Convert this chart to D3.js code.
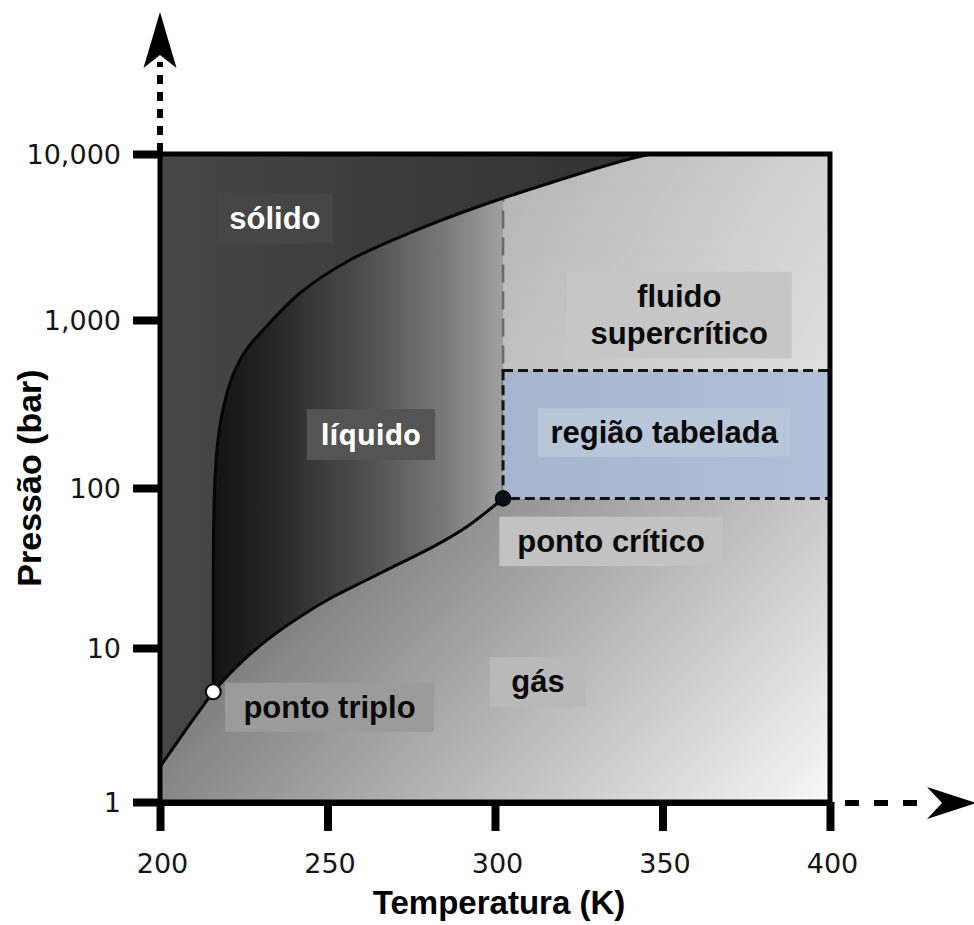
<!DOCTYPE html>
<html>
<head>
<meta charset="utf-8">
<script src="https://cdn.jsdelivr.net/npm/d3@7"></script>
<style>
  html, body { margin: 0; padding: 0; background: #ffffff; }
  svg { display: block; }
</style>
</head>
<body>
<svg id="chart" width="974" height="925"></svg>
<script>
// CO2 phase boundaries: temperature in K, pressure in bar
const sublimationT = [200, 208, 215.9];
const sublimationP = [1.69, 3.01, 5.2];

const vaporT = [215.9, 221.9, 231.9, 241.8, 251.7, 261.7, 271.6, 281.6, 291.6, 302.4];
const vaporP = [5.2, 7.2, 11.2, 15.7, 20.9, 26.6, 33.8, 43.0, 57.3, 86];

const meltT = [215.9, 215.9, 216.0, 216.4, 217.3, 219.1, 221.8, 225.7, 230.8, 241.8, 256.7, 276.6, 296.4, 316.4, 336.3, 346.3];
const meltP = [5.2, 20.5, 54.6, 112, 193, 312, 471, 663, 872, 1454, 2298, 3485, 4930, 6690, 8890, 10000];

const triplePoint = { T: 215.9, P: 5.2 };
const criticalPoint = { T: 302.4, P: 86 };

// tabulated window of the supercritical region
const tabulatedT = [302.4, 400];
const tabulatedP = [86, 500];

const xTicks = [200, 250, 300, 350, 400];
const xTickLabels = ["200", "250", "300", "350", "400"];
const yTicks = [1, 10, 100, 1000, 10000];
const yTickLabels = ["1", "10", "100", "1,000", "10,000"];

const xTitle = "Temperatura (K)";
const yTitle = "Pressão (bar)";

// region names, each on a shaded plate spanning a T/P window
const regionLabels = [
  { text: ["sólido"], T: [217, 251.6], P: [2900, 5800], plate: "#464646", ink: "#ffffff" },
  { text: ["líquido"], T: [243.8, 282.1], P: [147, 295], plate: "#545454", ink: "#ffffff", font: "'Open Sans', 'Liberation Sans', sans-serif", size: 29 },
  { text: ["ponto triplo"], T: [219.4, 281.8], P: [2.86, 5.95], plate: "#9b9b9b", ink: "#0a0a0a" },
  { text: ["gás"], T: [298.5, 327.2], P: [4.14, 8.74], plate: "#b9b9b9", ink: "#0a0a0a" },
  { text: ["ponto crítico"], T: [301.3, 368], P: [32.5, 66.2], plate: "#c2c2c2", ink: "#0a0a0a" },
  { text: ["fluido", "supercrítico"], T: [321.4, 388.6], P: [591, 1954], plate: "#c6c6c6", ink: "#0a0a0a" },
  { text: ["região tabelada"], T: [312.9, 388.1], P: [153.5, 298], plate: "#b9c6da", ink: "#0a0a0a" }
];

// ---------------------------------------------------------------------------
(function draw() {
  const pL = 160, pR = 830, pT = 154, pB = 802;
  const labelFont = "'Liberation Sans', Arial, Helvetica, sans-serif";

  const x = d3.scaleLinear().domain([200, 400]).range([pL, pR]);
  // log pressure axis, one segment per decade
  const y = d3.scaleLog().domain(yTicks).range([802, 648, 488, 320, 154]);

  const svg = d3.select("#chart");
  const defs = svg.append("defs");

  defs.append("clipPath").attr("id", "plot-clip")
    .append("rect")
    .attr("x", pL).attr("y", pT)
    .attr("width", pR - pL).attr("height", pB - pT);

  function linearGradient(id, coords, stops) {
    const g = defs.append("linearGradient").attr("id", id)
      .attr("gradientUnits", "userSpaceOnUse")
      .attr("x1", coords[0]).attr("y1", coords[1])
      .attr("x2", coords[2]).attr("y2", coords[3]);
    stops.forEach(([o, c]) => g.append("stop").attr("offset", o).attr("stop-color", c));
  }

  linearGradient("gas-fill", [300, 560, 717, 941], [[0, "#7a7a7a"], [1, "#fbfbfb"]]);
  linearGradient("liquid-fill", [x(triplePoint.T), 0, x(criticalPoint.T), 0],
    [[0, "#131313"], [0.22, "#272727"], [0.55, "#525252"], [0.8, "#7a7a7a"], [1, "#a0a0a0"]]);
  linearGradient("solid-fill", [pL, 0, 640, 0], [[0, "#464646"], [1, "#313131"]]);
  linearGradient("super-fill", [x(criticalPoint.T), 190, pR, 390], [[0, "#b6b6b6"], [1, "#e0e0e0"]]);
  linearGradient("table-fill", [x(tabulatedT[0]), 0, pR, 0], [[0, "#a6b5cd"], [1, "#b2bfd5"]]);

  const zip = (ts, ps) => ts.map((T, i) => ({ T, P: ps[i] }));
  const sublimation = zip(sublimationT, sublimationP);
  const vapor = zip(vaporT, vaporP);
  const melt = zip(meltT, meltP);

  const lineLinear = d3.line().x(d => x(d.T)).y(d => y(d.P));
  const lineVapor = d3.line().x(d => x(d.T)).y(d => y(d.P)).curve(d3.curveMonotoneX);
  const lineMelt = d3.line().x(d => x(d.T)).y(d => y(d.P)).curve(d3.curveCatmullRom.alpha(0.5));

  const subPath = lineLinear(sublimation);
  const vaporPath = lineVapor(vapor);
  const meltPath = lineMelt(melt);

  const plot = svg.append("g").attr("clip-path", "url(#plot-clip)");

  // gas: whole field underneath
  plot.append("rect")
    .attr("x", pL).attr("y", pT)
    .attr("width", pR - pL).attr("height", pB - pT)
    .attr("fill", "url(#gas-fill)");

  // everything above the sublimation / vaporisation line, left of the critical isotherm
  const yMax = y(10000);
  const liquidArea = subPath + "L" + vaporPath.slice(1) +
    `L${x(criticalPoint.T)},${yMax}L${x(200)},${yMax}Z`;
  plot.append("path").attr("d", liquidArea).attr("fill", "url(#liquid-fill)");

  // supercritical quadrant
  plot.append("rect")
    .attr("x", x(criticalPoint.T)).attr("y", yMax)
    .attr("width", pR - x(criticalPoint.T))
    .attr("height", y(criticalPoint.P) - yMax)
    .attr("fill", "url(#super-fill)");

  // critical isotherm
  plot.append("line")
    .attr("x1", x(criticalPoint.T)).attr("x2", x(criticalPoint.T))
    .attr("y1", y(criticalPoint.P)).attr("y2", yMax)
    .attr("stroke", "#6a6a6a").attr("stroke-width", 2.6)
    .attr("stroke-dasharray", "18,9");

  // solid region, bounded by sublimation and melting curves
  const solidArea = `M${x(200)},${yMax}L` + subPath.slice(1) + "L" + meltPath.slice(1) + "Z";
  plot.append("path").attr("d", solidArea).attr("fill", "url(#solid-fill)");

  // tabulated window
  plot.append("rect")
    .attr("x", x(tabulatedT[0])).attr("y", y(tabulatedP[1]))
    .attr("width", x(tabulatedT[1]) - x(tabulatedT[0]))
    .attr("height", y(tabulatedP[0]) - y(tabulatedP[1]))
    .attr("fill", "url(#table-fill)")
    .attr("stroke", "#141414").attr("stroke-width", 3)
    .attr("stroke-dasharray", "10,5");

  // phase boundaries
  [subPath, vaporPath, meltPath].forEach(d =>
    plot.append("path").attr("d", d)
      .attr("fill", "none").attr("stroke", "#050505")
      .attr("stroke-width", 3).attr("stroke-linejoin", "round"));

  // region plates and names
  regionLabels.forEach(lab => {
    const x0 = x(lab.T[0]), x1 = x(lab.T[1]);
    const y0 = y(lab.P[1]), y1 = y(lab.P[0]);
    plot.append("rect")
      .attr("x", x0).attr("y", y0)
      .attr("width", x1 - x0).attr("height", y1 - y0)
      .attr("fill", lab.plate);
    const size = lab.size || 31;
    const lineH = 36.6;
    const cx = (x0 + x1) / 2, cy = (y0 + y1) / 2;
    const t = plot.append("text")
      .attr("text-anchor", "middle")
      .attr("font-family", lab.font || labelFont)
      .attr("font-weight", "bold")
      .attr("font-size", size)
      .attr("fill", lab.ink);
    lab.text.forEach((s, i) => {
      t.append("tspan")
        .attr("x", cx)
        .attr("y", cy + 10.5 + (i - (lab.text.length - 1) / 2) * lineH)
        .text(s);
    });
  });

  // triple and critical points
  plot.append("circle")
    .attr("cx", x(criticalPoint.T)).attr("cy", y(criticalPoint.P)).attr("r", 7.5)
    .attr("fill", "#0b0f18").attr("stroke", "#000").attr("stroke-width", 1.5);
  plot.append("circle")
    .attr("cx", x(triplePoint.T)).attr("cy", y(triplePoint.P)).attr("r", 7.5)
    .attr("fill", "#ffffff").attr("stroke", "#111").attr("stroke-width", 2.2);

  // frame
  svg.append("rect")
    .attr("x", pL).attr("y", pT)
    .attr("width", pR - pL).attr("height", pB - pT)
    .attr("fill", "none").attr("stroke", "#000").attr("stroke-width", 5);
  svg.append("line")
    .attr("x1", pL).attr("x2", pR)
    .attr("y1", pB + 1).attr("y2", pB + 1)
    .attr("stroke", "#000").attr("stroke-width", 6);

  // axes
  const tickFont = "'DejaVu Sans', Verdana, sans-serif";

  svg.append("g")
    .attr("transform", `translate(${pL},0)`)
    .call(d3.axisLeft(y).tickValues(yTicks)
      .tickFormat(d => yTickLabels[yTicks.indexOf(d)])
      .tickSize(27).tickPadding(12))
    .call(g => g.select(".domain").remove())
    .call(g => g.selectAll(".tick line").attr("stroke", "#000").attr("stroke-width", 8))
    .call(g => g.selectAll(".tick text")
      .attr("font-family", tickFont).attr("font-size", 27)
      .attr("fill", "#151515").attr("dy", "0.36em"));

  svg.append("g")
    .attr("transform", `translate(0,${pB})`)
    .call(d3.axisBottom(x).tickValues(xTicks)
      .tickFormat(d => xTickLabels[xTicks.indexOf(d)])
      .tickSize(29).tickPadding(23))
    .call(g => g.select(".domain").remove())
    .call(g => g.selectAll(".tick line").attr("stroke", "#000").attr("stroke-width", 8))
    .call(g => g.selectAll(".tick text")
      .attr("font-family", tickFont).attr("font-size", 27)
      .attr("fill", "#151515").attr("dx", 2));

  // axis arrows (dashed shafts with notched heads)
  const arrows = svg.append("g").attr("fill", "#000");
  arrows.append("line")
    .attr("x1", pL).attr("x2", pL)
    .attr("y1", pT - 2).attr("y2", pT - 92)
    .attr("stroke", "#000").attr("stroke-width", 6)
    .attr("stroke-dasharray", "9,8");
  arrows.append("path")
    .attr("d", `M${pL},${pT - 142}L${pL + 16.5},${pT - 86}L${pL},${pT - 99}L${pL - 16.5},${pT - 86}Z`);

  const ay = pB + 1;
  arrows.append("line")
    .attr("x1", pR + 15).attr("x2", pR + 95)
    .attr("y1", ay).attr("y2", ay)
    .attr("stroke", "#000").attr("stroke-width", 6)
    .attr("stroke-dasharray", "14,15");
  arrows.append("path")
    .attr("d", `M${pR + 146},${ay}L${pR + 97},${ay - 16}L${pR + 112},${ay}L${pR + 97},${ay + 16}Z`);

  // axis titles
  svg.append("text")
    .attr("x", (pL + pR) / 2 + 4).attr("y", 914)
    .attr("text-anchor", "middle")
    .attr("font-family", labelFont).attr("font-weight", "bold").attr("font-size", 33)
    .attr("fill", "#000")
    .text(xTitle);

  svg.append("text")
    .attr("transform", `translate(41,${(pT + pB) / 2}) rotate(-90)`)
    .attr("text-anchor", "middle")
    .attr("font-family", labelFont).attr("font-weight", "bold").attr("font-size", 34)
    .attr("fill", "#000")
    .text(yTitle);
})();
</script>
</body>
</html>
